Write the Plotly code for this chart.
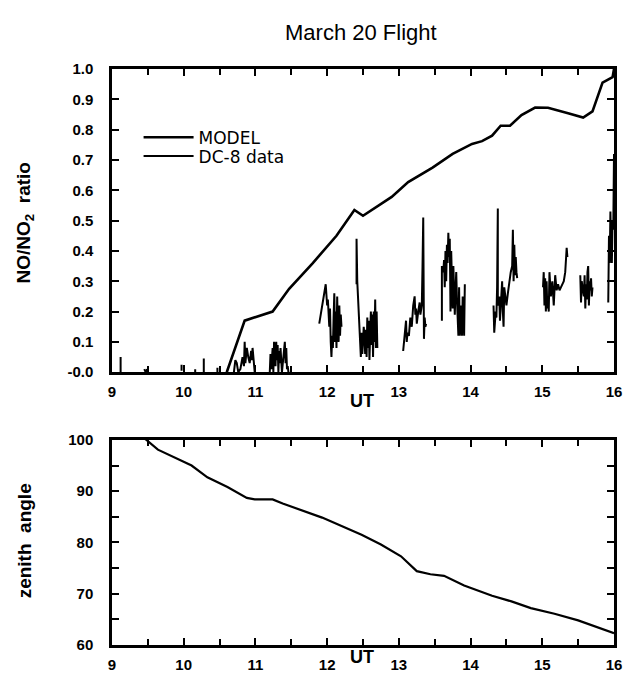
import plotly.graph_objects as go
from plotly.subplots import make_subplots

# ---------------- data ----------------
model_ut = [10.60, 10.85, 11.24, 11.47, 11.80, 12.13, 12.38, 12.50, 12.90, 13.13, 13.47, 13.75,
            14.02, 14.16, 14.30, 14.42, 14.55, 14.71, 14.90, 15.08, 15.36, 15.57, 15.70, 15.84,
            15.98, 16.0]
model_ratio = [0.0, 0.17, 0.20, 0.275, 0.36, 0.45, 0.535, 0.516, 0.578, 0.627, 0.675, 0.72,
               0.753, 0.762, 0.78, 0.813, 0.813, 0.848, 0.873, 0.872, 0.854, 0.84, 0.86, 0.955,
               0.973, 1.0]

dc8_ut = [
    9.12, 9.12, None, 9.45, 9.47, 9.49, None, 9.97, 9.97, None, 10.16, 10.16, None,
    10.28, 10.28, None, 10.47, 10.47, None,
    10.70, 10.72, 10.74, 10.76, 10.79, 10.82, 10.84, 10.85, 10.86, 10.88, 10.90, 10.92, 10.94,
    10.95, 10.96, 10.97, 10.99, None,
    11.20, 11.21, 11.22, 11.24, 11.25, 11.26, 11.28, 11.29, 11.30, 11.31, 11.32, 11.33, 11.34,
    11.35, 11.37, 11.38, 11.40, 11.41, 11.42, 11.43, 11.44, 11.45, 11.46, None,
    11.89, 11.92, 11.95, 11.98, 12.00, 12.01, 12.03, 12.04, 12.05, 12.06, 12.07, 12.08, 12.09,
    12.10, 12.11, 12.12, 12.13, 12.14, 12.15, 12.16, 12.17, 12.18, 12.19, 12.20, None,
    12.41, 12.41, 12.42, 12.43, 12.45, 12.46, 12.47, 12.48, 12.49, 12.50, 12.51, 12.52, 12.53,
    12.54, 12.55, 12.56, 12.57, 12.58, 12.59, 12.60, 12.61, 12.62, 12.63, 12.64, 12.65, 12.66,
    12.67, 12.68, 12.69, 12.70, None,
    13.06, 13.08, 13.10, 13.11, 13.12, 13.14, 13.16, 13.18, 13.20, 13.22, 13.23, 13.24, 13.25,
    13.27, 13.29, 13.30, 13.32, 13.33, 13.34, 13.35, 13.36, 13.37, 13.38, None,
    13.60, 13.60, 13.62, 13.63, 13.64, 13.65, 13.66, 13.67, 13.68, 13.69, 13.70, 13.71, 13.72,
    13.73, 13.74, 13.75, 13.76, 13.77, 13.78, 13.79, 13.80, 13.81, 13.82, 13.83, 13.84, 13.85,
    13.86, 13.87, 13.88, 13.89, 13.90, 13.91, 13.92, None,
    14.32, 14.33, 14.35, 14.36, 14.37, 14.38, 14.38, 14.40, 14.41, 14.42, 14.44, 14.45, 14.46,
    14.47, 14.48, 14.50, 14.52, 14.54, 14.56, 14.58, 14.59, 14.60, 14.61, 14.62, 14.63, 14.64,
    14.65, None,
    15.01, 15.02, 15.03, 15.04, 15.05, 15.06, 15.07, 15.08, 15.09, 15.10, 15.12, 15.14, 15.16,
    15.18, 15.20, 15.22, 15.24, 15.26, 15.28, 15.30, 15.32, 15.34, 15.35, None,
    15.53, 15.54, 15.55, 15.57, 15.58, 15.59, 15.60, 15.61, 15.62, 15.63, 15.64, 15.65, 15.66,
    15.67, 15.68, 15.69, 15.70, None,
    15.92, 15.93, 15.94, 15.95, 15.96, 15.97, 15.98, 15.99, 16.0,
]
dc8_ratio = [
    0.0, 0.05, None, 0.01, 0.0, 0.01, None, 0.005, 0.025, None, 0.0, 0.01, None,
    0.0, 0.045, None, 0.0, 0.015, None,
    0.0, 0.04, 0.03, 0.0, 0.01, 0.05, 0.02, 0.10, 0.03, 0.08, 0.05, 0.03, 0.07,
    0.04, 0.08, 0.05, 0.0, None,
    0.0, 0.06, 0.01, 0.08, 0.0, 0.10, 0.02, 0.10, 0.04, 0.09, 0.0, 0.07, 0.03,
    0.08, 0.0, 0.02, 0.06, 0.10, 0.03, 0.08, 0.01, 0.02, 0.0, None,
    0.16, 0.20, 0.25, 0.29, 0.22, 0.24, 0.15, 0.21, 0.10, 0.05, 0.12, 0.08, 0.18,
    0.26, 0.10, 0.20, 0.08, 0.25, 0.14, 0.10, 0.22, 0.12, 0.19, 0.15, None,
    0.29, 0.44, 0.30, 0.25, 0.15, 0.08, 0.05, 0.13, 0.06, 0.10, 0.15, 0.12, 0.06,
    0.14, 0.05, 0.18, 0.08, 0.17, 0.04, 0.13, 0.20, 0.09, 0.19, 0.05, 0.20, 0.10,
    0.24, 0.08, 0.20, 0.08, None,
    0.07, 0.13, 0.17, 0.10, 0.13, 0.12, 0.18, 0.15, 0.22, 0.25, 0.19, 0.21, 0.16,
    0.20, 0.23, 0.19, 0.22, 0.35, 0.51, 0.11, 0.18, 0.15, 0.16, None,
    0.17, 0.35, 0.33, 0.37, 0.28, 0.40, 0.30, 0.42, 0.36, 0.46, 0.38, 0.44, 0.20,
    0.40, 0.30, 0.21, 0.35, 0.25, 0.19, 0.27, 0.33, 0.24, 0.17, 0.12, 0.28, 0.12,
    0.22, 0.15, 0.12, 0.25, 0.20, 0.12, 0.29, None,
    0.22, 0.13, 0.20, 0.18, 0.28, 0.54, 0.22, 0.25, 0.17, 0.22, 0.30, 0.20, 0.15,
    0.28, 0.25, 0.22, 0.26, 0.30, 0.33, 0.35, 0.47, 0.30, 0.42, 0.32, 0.38, 0.33,
    0.31, None,
    0.28, 0.33, 0.22, 0.31, 0.20, 0.30, 0.21, 0.24, 0.20, 0.33, 0.25, 0.30, 0.22,
    0.32, 0.27, 0.29, 0.27, 0.28, 0.29, 0.30, 0.33, 0.41, 0.38, None,
    0.32, 0.23, 0.30, 0.27, 0.25, 0.32, 0.21, 0.29, 0.24, 0.33, 0.35, 0.22, 0.30,
    0.27, 0.31, 0.25, 0.28, None,
    0.23, 0.45, 0.36, 0.53, 0.40, 0.36, 0.50, 0.47, 0.72,
]

zenith_ut = [9.45, 9.48, 9.64, 10.11, 10.33, 10.61, 10.88, 10.99, 11.24, 11.38, 11.93, 12.48,
             12.75, 13.03, 13.25, 13.44, 13.63, 13.91, 14.30, 14.57, 14.84, 15.17, 15.50,
             15.72, 16.0]
zenith_angle = [100.3, 100.0, 98.1, 95.0, 92.7, 90.8, 88.7, 88.4, 88.4, 87.6, 84.85, 81.5,
                79.6, 77.3, 74.4, 73.8, 73.5, 71.6, 69.6, 68.5, 67.2, 66.1, 64.8, 63.7, 62.3]

ratio_ticks = [0.0, 0.1, 0.2, 0.3, 0.4, 0.5, 0.6, 0.7, 0.8, 0.9, 1.0]
ratio_ticktext = ["-0.0", "0.1", "0.2", "0.3", "0.4", "0.5", "0.6", "0.7", "0.8", "0.9", "1.0"]
ut_ticks = [9, 10, 11, 12, 13, 14, 15, 16]
zenith_ticks = [60, 70, 80, 90, 100]

# ---------------- figure ----------------
# The page body has an 8 px margin, so the figure is made 8 px smaller on the
# left/top and all target screen positions are shifted by that offset.
OFF = 8
W, H = 631 - OFF, 682 - OFF
ML, MR, MT, MB = 112 - OFF, 9, 69 - OFF, 26
PH = H - MT - MB
PB = H - MB  # figure-pixel y of plot bottom


def sy(py):
    """screen y -> figure y"""
    return py - OFF


top_dom = [(PB - sy(378)) / PH, 1.0]
bot_dom = [0.0, (PB - sy(447)) / PH]

fig = make_subplots(rows=2, cols=1)

fig.add_trace(go.Scatter(x=model_ut, y=model_ratio, mode="lines", name="MODEL",
                         legend="legend",
                         line=dict(color="black", width=2.6)), row=1, col=1)
fig.add_trace(go.Scatter(x=dc8_ut, y=dc8_ratio, mode="lines", name="DC-8 data",
                         legend="legend2",
                         line=dict(color="black", width=2.0), connectgaps=False), row=1, col=1)
fig.add_trace(go.Scatter(x=zenith_ut, y=zenith_angle, mode="lines", showlegend=False,
                         line=dict(color="black", width=2.2)), row=2, col=1)

tickfont = dict(family="Liberation Sans", size=15, color="black", weight="bold")
axis_common = dict(showline=True, linecolor="black", linewidth=2.5, mirror="ticks",
                   ticks="inside", ticklen=7, tickwidth=1.6, tickcolor="black",
                   showgrid=False, zeroline=False, tickfont=tickfont)

fig.update_xaxes(**axis_common, range=[9, 16], tickvals=ut_ticks, ticklabelstandoff=4,
                 minor=dict(dtick=0.5, tick0=9, ticks="inside", ticklen=6, tickwidth=1.6,
                            tickcolor="black", showgrid=False))
fig.update_xaxes(domain=[0, 1], row=1, col=1)
fig.update_xaxes(domain=[0, 1], row=2, col=1)
fig.update_yaxes(**axis_common)
fig.update_yaxes(range=[0, 1.0], tickvals=ratio_ticks, ticktext=ratio_ticktext,
                 domain=top_dom, ticklabelstandoff=13, row=1, col=1)
fig.update_yaxes(range=[60, 100], tickvals=zenith_ticks, domain=bot_dom, ticklabelstandoff=13,
                 minor=dict(dtick=5, tick0=60, ticks="inside", ticklen=7, tickwidth=1.6,
                            tickcolor="black", showgrid=False),
                 row=2, col=1)


def px_x(px):
    return (px - OFF - ML) / (W - ML - MR)


def px_y(py):
    return (PB - sy(py)) / PH


lab_font = dict(family="Liberation Sans", size=19, color="black", weight="bold")
annots = [
    dict(text="March 20 Flight", x=px_x(365), y=px_y(32),
         font=dict(family="Liberation Sans", size=22, color="black")),
    dict(text="UT", x=px_x(366), y=px_y(407),
         font=dict(family="Liberation Sans", size=18, color="black", weight="bold")),
    dict(text="UT", x=px_x(366), y=px_y(668),
         font=dict(family="Liberation Sans", size=18, color="black", weight="bold")),
    dict(text="NO/NO<sub>2</sub>  ratio", x=px_x(24), y=px_y(226), textangle=-90,
         font=lab_font),
    dict(text="zenith  angle", x=px_x(24), y=px_y(550), textangle=-90,
         font=lab_font),
]
for a in annots:
    fig.add_annotation(xref="paper", yref="paper", showarrow=False,
                       xanchor="center", yanchor="middle", **a)

leg_font = dict(family="DejaVu Sans", size=17, color="black")
fig.update_layout(
    width=W, height=H,
    margin=dict(l=ML, r=MR, t=MT, b=MB),
    paper_bgcolor="white", plot_bgcolor="white",
    showlegend=True,
    legend=dict(x=px_x(139), y=px_y(139), xanchor="left", yanchor="middle",
                bgcolor="rgba(0,0,0,0)", itemwidth=50, font=leg_font),
    legend2=dict(x=px_x(139), y=px_y(158), xanchor="left", yanchor="middle",
                 bgcolor="rgba(0,0,0,0)", itemwidth=50, font=leg_font),
)

fig.write_html("out.html", config={"displayModeBar": False})
